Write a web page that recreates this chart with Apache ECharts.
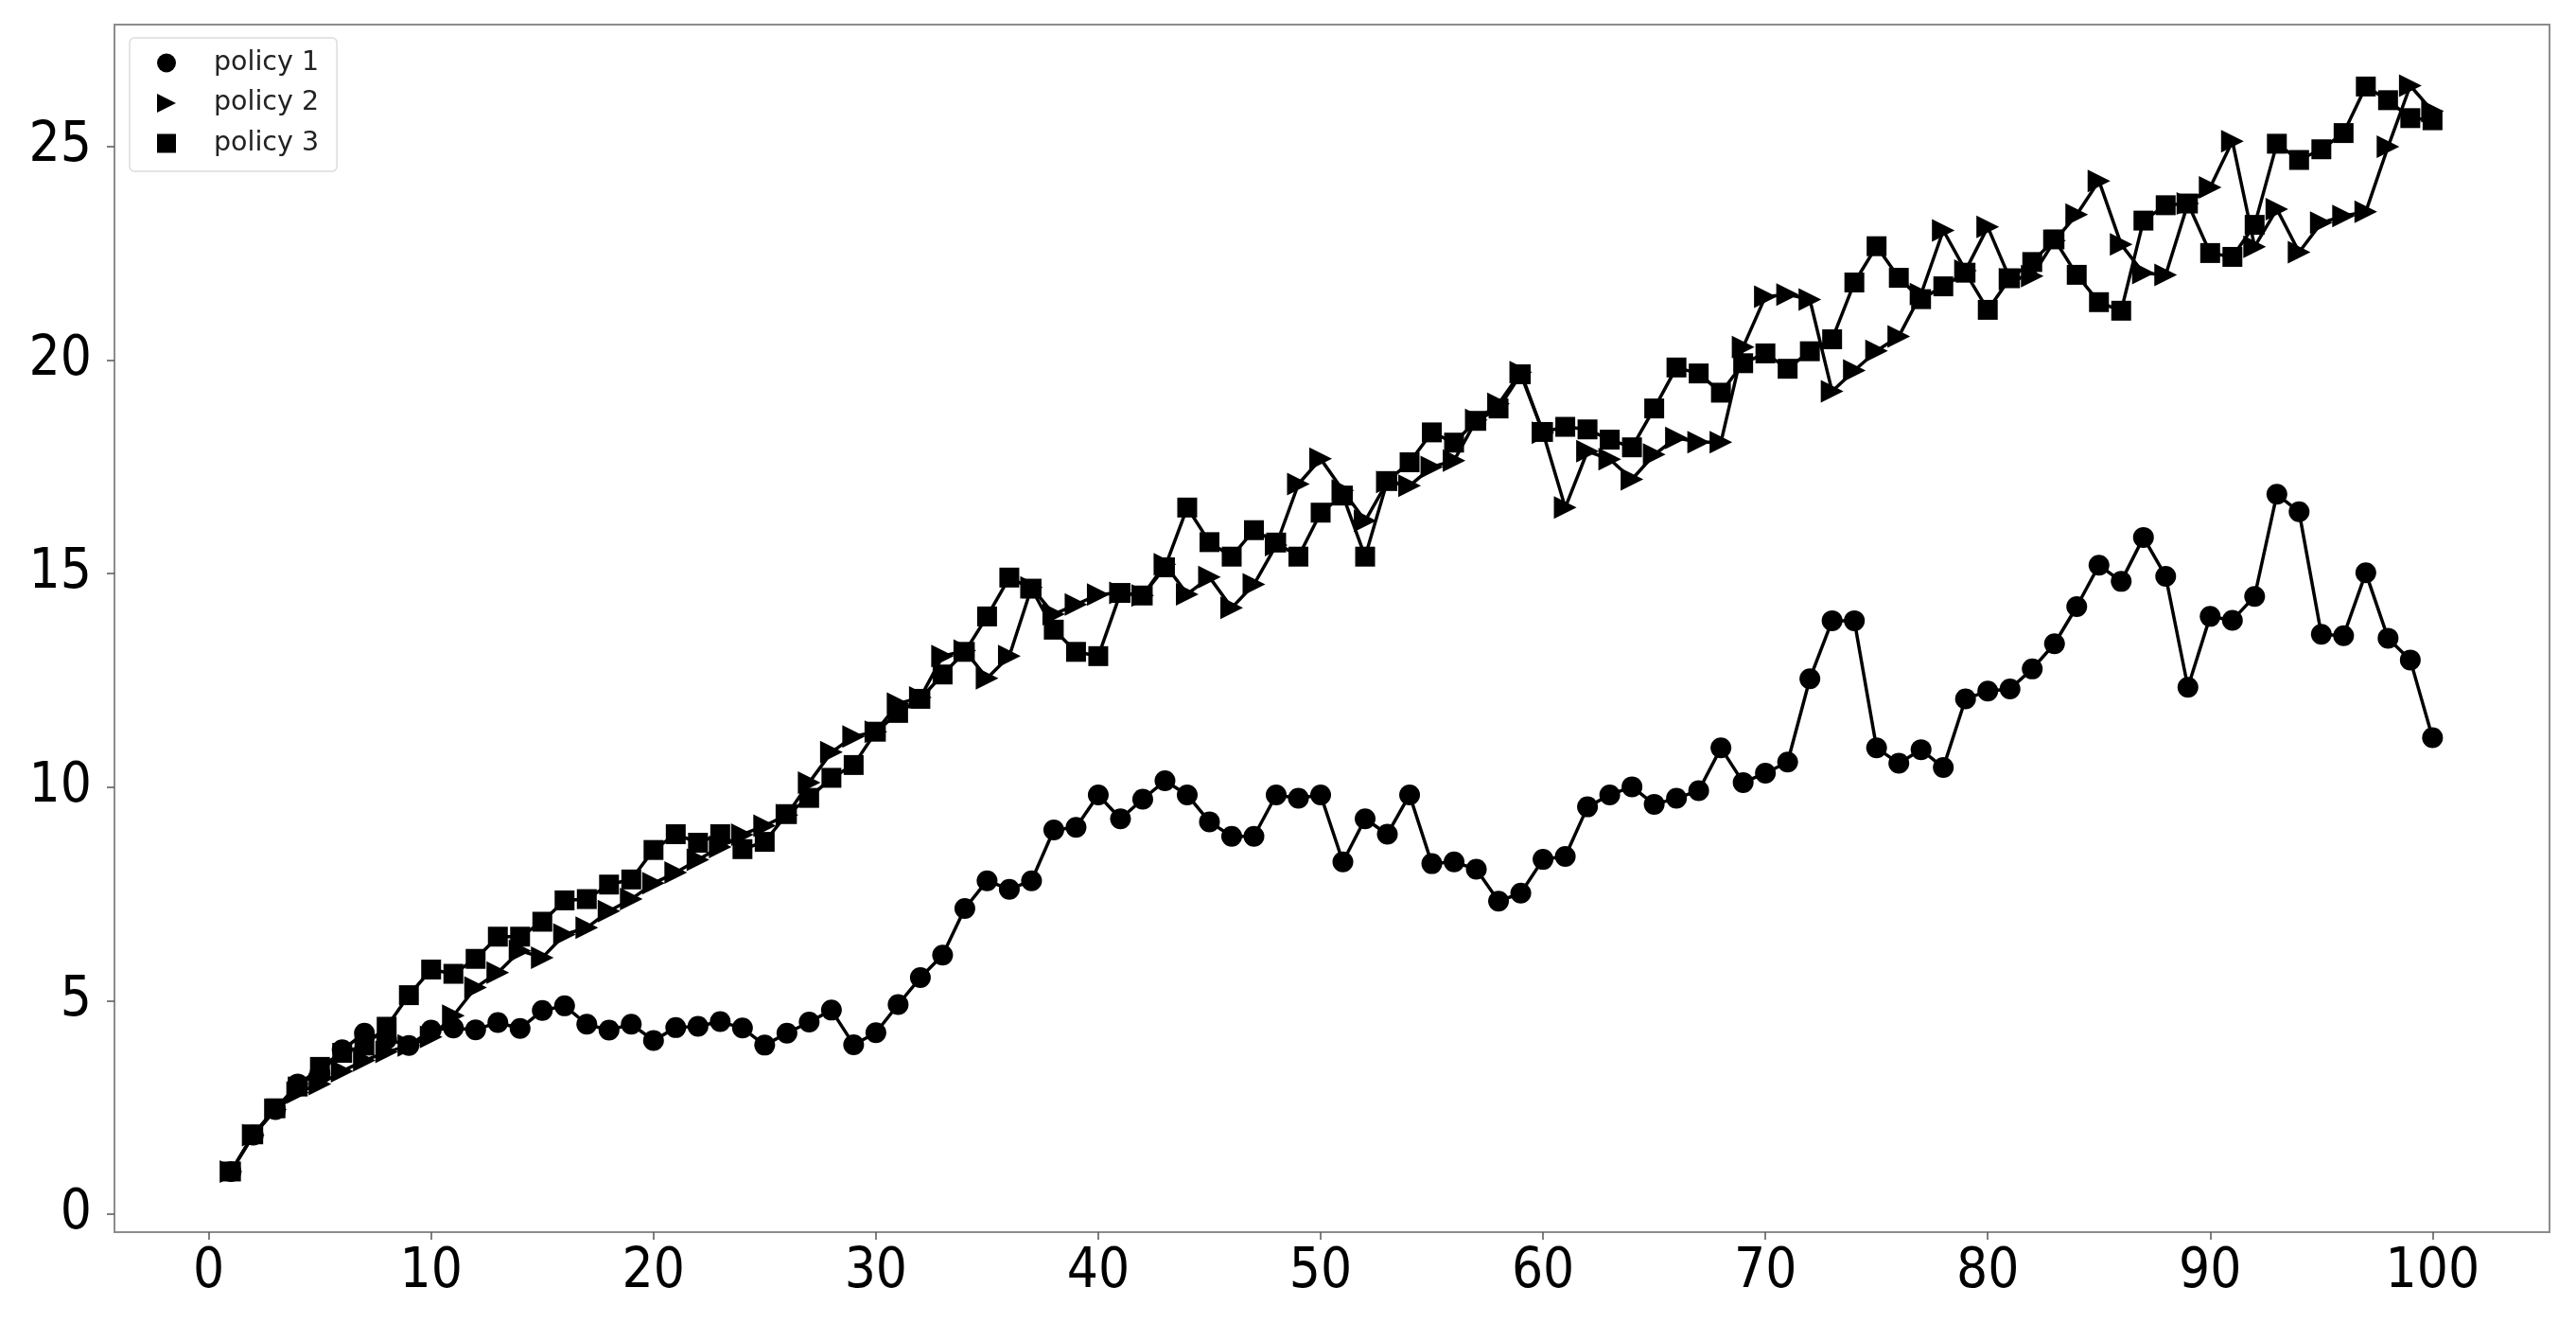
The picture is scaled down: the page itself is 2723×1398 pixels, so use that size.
<!DOCTYPE html>
<html><head><meta charset="utf-8">
<script src="https://cdn.jsdelivr.net/npm/echarts@6/dist/echarts.min.js"></script>
<style>html,body{margin:0;padding:0;background:#fff}#c{width:2723px;height:1398px}</style>
</head><body><div id="c"></div>
<script>
// step index 1..100
const steps = [];
for (let i = 1; i <= 100; i++) steps.push(i);

const seriesNames = ['policy 1', 'policy 2', 'policy 3'];

const policy1 = [
  1.0, 1.85, 2.45, 3.05, 3.3, 3.85, 4.24, 4.1, 3.95, 4.31,
  4.36, 4.32, 4.49, 4.35, 4.77, 4.88, 4.45, 4.31, 4.45, 4.07,
  4.37, 4.40, 4.51, 4.36, 3.96, 4.24, 4.5, 4.78, 3.97, 4.25,
  4.91, 5.54, 6.07, 7.16, 7.81, 7.61, 7.81, 9.0, 9.06, 9.82,
  9.26, 9.72, 10.15, 9.82, 9.19, 8.85, 8.85, 9.82, 9.74, 9.82,
  8.25, 9.26, 8.9, 9.82, 8.21, 8.25, 8.08, 7.33, 7.52, 8.31,
  8.38, 9.54, 9.82, 10.01, 9.6, 9.74, 9.92, 10.92, 10.11, 10.33,
  10.59, 12.54, 13.9, 13.9, 10.92, 10.56, 10.88, 10.46, 12.07, 12.25,
  12.3, 12.77, 13.36, 14.23, 15.2, 14.82, 15.85, 14.94, 12.34, 14.0,
  13.91, 14.47, 16.86, 16.45, 13.58, 13.55, 15.02, 13.49, 12.98, 11.16
];

const policy2 = [
  1.0, 1.85, 2.45, 2.85, 3.05, 3.35, 3.6, 3.8, 3.95, 4.15,
  4.65, 5.31, 5.66, 6.17, 6.01, 6.55, 6.71, 7.1, 7.38, 7.75,
  8.0, 8.3, 8.6, 8.89, 9.1, 9.35, 10.11, 10.82, 11.19, 11.3,
  11.96, 12.1, 13.07, 13.2, 12.55, 13.07, 14.68, 14.05, 14.28, 14.51,
  14.55, 14.49, 15.22, 14.52, 14.92, 14.2, 14.75, 15.67, 17.1, 17.69,
  16.95, 16.24, 17.15, 17.06, 17.5, 17.65, 18.6, 18.98, 19.72, 18.3,
  16.55, 17.87, 17.68, 17.21, 17.79, 18.18, 18.08, 18.08, 20.31, 21.49,
  21.54, 21.42, 19.27, 19.76, 20.22, 20.56, 21.55, 23.04, 22.1, 23.12,
  21.9, 21.97, 22.8, 23.41, 24.2, 22.71, 22.04, 22.0, 23.67, 24.05,
  25.13, 22.66, 23.54, 22.53, 23.22, 23.38, 23.48, 25.0, 26.43, 25.83
];

const policy3 = [
  1.0, 1.87, 2.48, 2.99, 3.45, 3.78, 3.95, 4.39, 5.13, 5.73,
  5.63, 5.98, 6.5, 6.5, 6.85, 7.35, 7.38, 7.72, 7.84, 8.53,
  8.9, 8.7, 8.9, 8.55, 8.72, 9.37, 9.75, 10.22, 10.52, 11.3,
  11.74, 12.07, 12.64, 13.17, 14.0, 14.91, 14.65, 13.69, 13.17, 13.07,
  14.55, 14.49, 15.15, 16.55, 15.74, 15.4, 16.02, 15.73, 15.4, 16.43,
  16.83, 15.4, 17.17, 17.61, 18.31, 18.07, 18.58, 18.87, 19.67, 18.32,
  18.44, 18.38, 18.14, 17.96, 18.87, 19.83, 19.69, 19.24, 19.93, 20.16,
  19.8, 20.21, 20.49, 21.82, 22.67, 21.93, 21.43, 21.73, 22.05, 21.18,
  21.92, 22.3, 22.83, 22.0, 21.36, 21.16, 23.27, 23.63, 23.67, 22.51,
  22.42, 23.17, 25.07, 24.69, 24.94, 25.32, 26.41, 26.09, 25.67, 25.62
];

const xTickLabels = [0, 10, 20, 30, 40, 50, 60, 70, 80, 90, 100];
const yTickLabels = [0, 5, 10, 15, 20, 25];

const TRI = 'path://M0,0L20,10L0,20Z';
const markers = ['circle', TRI, 'rect'];
const markerSizes = [22, 24, 21];
const allValues = [policy1, policy2, policy3];

const tickFont = "'DejaVu Sans Condensed', 'DejaVu Sans', sans-serif";

const chart = echarts.init(document.getElementById('c'), null, {renderer: 'canvas'});
chart.setOption({
  backgroundColor: '#ffffff',
  animation: false,
  grid: {
    left: 121, right: 28, top: 26, bottom: 96,
    show: true, borderColor: '#8c8c8c', borderWidth: 2, backgroundColor: 'transparent'
  },
  legend: {
    orient: 'vertical',
    left: 137, top: 40,
    padding: [12, 19, 15, 29],
    itemGap: 13.5,
    itemWidth: 20, itemHeight: 20,
    borderColor: '#dcdcdc', borderWidth: 1.5, borderRadius: 5,
    backgroundColor: '#ffffff',
    textStyle: {fontSize: 28.5, color: '#222', fontFamily: "'DejaVu Sans', sans-serif", lineHeight: 20, padding: [0, 0, 0, 35]},
    data: seriesNames.map((n, k) => ({name: n, icon: markers[k], itemStyle: {color: '#000'}}))
  },
  xAxis: {
    type: 'value', min: -4.24, max: 105.26,
    axisLine: {show: false, onZero: false},
    splitLine: {show: false},
    axisTick: {show: true, length: 8, lineStyle: {color: '#555', width: 1.5}, customValues: xTickLabels},
    axisLabel: {customValues: xTickLabels, fontSize: 58, color: '#000', fontFamily: tickFont, margin: 14}
  },
  yAxis: {
    type: 'value', min: -0.42, max: 27.86,
    axisLine: {show: false, onZero: false},
    splitLine: {show: false},
    axisTick: {show: true, length: 8, lineStyle: {color: '#555', width: 1.5}, customValues: yTickLabels},
    axisLabel: {customValues: yTickLabels, fontSize: 58, color: '#000', fontFamily: tickFont, margin: 24}
  },
  series: seriesNames.map((n, k) => ({
    name: n,
    type: 'line',
    data: steps.map((x, i) => [x, allValues[k][i]]),
    symbol: markers[k],
    symbolSize: markerSizes[k],
    showAllSymbol: true,
    itemStyle: {color: '#000'},
    lineStyle: {color: '#000', width: 3.5},
    emphasis: {disabled: true}
  }))
});
</script>
</body></html>
